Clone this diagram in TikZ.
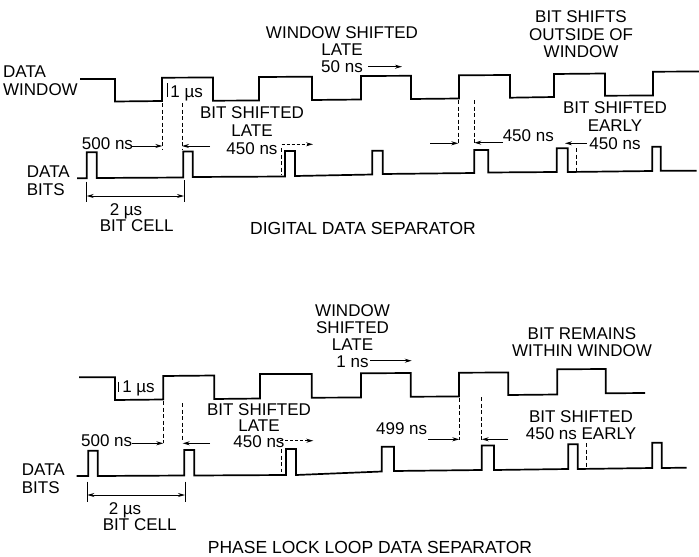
\documentclass[tikz,border=0pt]{standalone}
\usepackage{fontspec}
\setmainfont{Liberation Sans}
\usetikzlibrary{arrows.meta}
\newcommand\labfont[1]{\fontsize{17}{#1}\selectfont}
\tikzset{
 wave/.style={line width=1.7pt, line join=miter},
 guide/.style={line width=0.8pt, dash pattern=on 4pt off 2.5pt},
 dimarrow/.style={line width=0.9pt, -{Stealth[length=7pt,width=4pt]}},
 dotarrow/.style={dimarrow, dash pattern=on 3pt off 2pt},
 lbl/.style={font=\labfont{17.5}, inner sep=0pt, anchor=north, align=center},
 lbll/.style={lbl, align=left, anchor=north west},
 ttl/.style={lbl, font=\fontsize{17.5}{18}\selectfont},
 tickline/.style={line width=0.8pt}
}
\begin{document}
\begin{tikzpicture}[x=1pt,y=-1pt]
\useasboundingbox (0,0) rectangle (699,557);

% ================= TOP: DIGITAL DATA SEPARATOR =================
% data window
\draw[wave] (80,79) -- (115,79) -- (115,101.5) -- (162,101) -- (162,77.7) -- (213,77.5)
 -- (213,100.7) -- (259,100.5) -- (259,77) -- (312,76.7) -- (312,100) -- (361,99.5)
 -- (361,76) -- (411,75.8) -- (411,99) -- (459,98.5) -- (459,75.3) -- (510,75)
 -- (510,97.7) -- (554,97) -- (554,74) -- (605,73.5) -- (605,95.7) -- (653,95.5)
 -- (653,71.7) -- (699,71.5);
% data bits
\draw[wave] (77,178.3) -- (86.7,178.3) -- (86.7,152.3) -- (96.7,152.3) -- (96.7,178)
 -- (183.3,177.5) -- (183.3,151.5) -- (192.7,151.5) -- (192.7,177) -- (285,176.5)
 -- (285,151) -- (295,151) -- (295,176) -- (372.3,174.5) -- (372.3,150.7) -- (382.7,150.7)
 -- (382.7,174) -- (474.3,173) -- (474.3,150) -- (488.3,150) -- (488.3,172.5)
 -- (556.7,172) -- (556.7,148.3) -- (567.7,148.3) -- (567.7,172) -- (652.3,171)
 -- (652.3,146.7) -- (660.7,146.7) -- (660.7,170.7) -- (696.7,170.7);

% guide lines
\coordinate (tg1a) at (162.3,103); \coordinate (tg1b) at (162.3,149);
\coordinate (tg2a) at (182,103);   \coordinate (tg2b) at (182,149);
\coordinate (tg3a) at (281.7,148); \coordinate (tg3b) at (281.7,175);
\coordinate (tg4a) at (458.3,100); \coordinate (tg4b) at (458.3,145);
\coordinate (tg5a) at (474.3,100); \coordinate (tg5b) at (474.3,143);
\coordinate (tg6a) at (576.7,148); \coordinate (tg6b) at (576.7,172);
\foreach \g in {1,...,6} \draw[guide] (tg\g a) -- (tg\g b);
\draw[tickline] (167.5,83.3) -- (167.5,96.7);

% labels
\node[lbll, font=\labfont{17.6}] (tdw) at (3,65.6) {DATA\\WINDOW};
\node[lbl, font=\labfont{17.3}] (twsl) at (342,26.6) {WINDOW SHIFTED\\LATE};
\node[lbll] (t50) at (321,60.6) {50 ns};
\node[lbl] (t1us) at (186.7,85.6) {1 µs};
\node[lbl, font=\labfont{17.8}] (tbsl) at (252,106.6) {BIT SHIFTED\\LATE\\450 ns};
\node[lbl] (t500) at (107.5,137.2) {500 ns};
\node[lbl, font=\labfont{17.5}] (tbso) at (581,10.6) {BIT SHIFTS\\OUTSIDE OF\\WINDOW};
\node[lbl, font=\labfont{18}] (tbse) at (615,101.2) {BIT SHIFTED\\EARLY\\450 ns};
\node[lbl] (t450m) at (528.3,129.9) {450 ns};
\node[lbll, font=\labfont{18.3}] (tdb) at (26.7,165.6) {DATA\\BITS};
\node[lbl] (t2us) at (126,203.2) {2 µs};
\node[lbl] (tcell) at (136.7,219.9) {BIT CELL};
\node[ttl] (ttitle) at (363,222.2) {DIGITAL DATA SEPARATOR};

% arrows
\coordinate (ta1) at (131.7,146);   \coordinate (ta1e) at (162.3,146);
\coordinate (ta2) at (210,146);     \coordinate (ta2e) at (182,146);
\coordinate (ta3) at (281.7,144.3); \coordinate (ta3e) at (313,144.3);
\coordinate (ta4) at (368,66.7);    \coordinate (ta4e) at (402,66.7);
\coordinate (ta5) at (430,143.3);   \coordinate (ta5e) at (458.3,143.3);
\coordinate (ta6) at (503,142.7);   \coordinate (ta6e) at (474.3,142.7);
\coordinate (ta7) at (586.7,143.3); \coordinate (ta7e) at (565,143.3);
\draw[dimarrow] (ta1) -- (ta1e);
\draw[dimarrow] (ta2) -- (ta2e);
\draw[dotarrow] (ta3) -- (ta3e);
\draw[dimarrow] (ta4) -- (ta4e);
\draw[dimarrow] (ta5) -- (ta5e);
\draw[dimarrow] (ta6) -- (ta6e);
\draw[dimarrow] (ta7) -- (ta7e);
% bit cell dimension
\coordinate (tc1a) at (86.7,181.7); \coordinate (tc1b) at (86.7,201.7);
\coordinate (tc2a) at (184,180);    \coordinate (tc2b) at (184,201.7);
\draw[tickline] (tc1a) -- (tc1b);
\draw[tickline] (tc2a) -- (tc2b);
\draw[line width=0.9pt, {Stealth[length=7pt,width=4pt]}-{Stealth[length=7pt,width=4pt]}] (86.7,196) -- (184,196);

% ================= BOTTOM: PHASE LOCK LOOP DATA SEPARATOR =================
\draw[wave] (79,377.3) -- (115,377.3) -- (115,400) -- (163.3,399.5) -- (163.3,376) -- (214.3,375.5)
 -- (214.3,399) -- (260,398.5) -- (260,374) -- (311.7,374) -- (311.7,397.7) -- (361,397.5)
 -- (361,373.3) -- (410.7,373) -- (410.7,396.7) -- (459,396.5) -- (459,372.7) -- (508.3,372.5)
 -- (508.3,395) -- (557.3,394.5) -- (557.3,369.3) -- (605.7,369) -- (605.7,393.3) -- (645,393);
\draw[wave] (76.7,476) -- (88.3,476) -- (88.3,450.7) -- (97.7,450.7) -- (97.7,476)
 -- (184.3,475.5) -- (184.3,450) -- (194.3,450) -- (194.3,475.5) -- (286,475)
 -- (286,449) -- (296,449) -- (296,475) -- (381.7,471.5) -- (381.7,446.7) -- (394,446.7)
 -- (394,471) -- (481.7,470) -- (481.7,445.5) -- (494,445.5) -- (494,470)
 -- (568.3,469) -- (568.3,444.3) -- (577.7,444.3) -- (577.7,469) -- (652.3,468)
 -- (652.3,442.7) -- (661.7,442.7) -- (661.7,468) -- (686.7,467.7);

\coordinate (bg1a) at (163.3,401); \coordinate (bg1b) at (163.3,442.7);
\coordinate (bg2a) at (182.7,403); \coordinate (bg2b) at (182.7,440);
\coordinate (bg3a) at (281.7,449); \coordinate (bg3b) at (281.7,471.7);
\coordinate (bg4a) at (459.3,398); \coordinate (bg4b) at (459.3,440);
\coordinate (bg5a) at (481.7,397); \coordinate (bg5b) at (481.7,440);
\coordinate (bg6a) at (586,443);   \coordinate (bg6b) at (586,468);
\foreach \g in {1,...,6} \draw[guide] (bg\g a) -- (bg\g b);
\draw[tickline] (118.3,381.7) -- (118.3,391.7);

\node[lbl] (b1us) at (138.5,380.6) {1 µs};
\node[lbl, font=\labfont{17}] (bws) at (352.5,304.6) {WINDOW\\SHIFTED\\LATE\\1 ns};
\node[lbl, font=\labfont{17.7}] (brw) at (582,327.2) {BIT REMAINS\\WITHIN WINDOW};
\node[lbl, font=\labfont{15.9}] (bbsl) at (259,403.9) {BIT SHIFTED\\LATE\\450 ns};
\node[lbl] (b500) at (106.7,434.6) {500 ns};
\node[lbl] (b499) at (401.7,422.2) {499 ns};
\node[lbl, font=\labfont{16.6}] (bbse) at (581,410.6) {BIT SHIFTED\\450 ns EARLY};
\node[lbll, font=\labfont{17.3}] (bdb) at (21.7,463.9) {DATA\\BITS};
\node[lbl] (b2us) at (125,502.2) {2 µs};
\node[lbl] (bcell) at (139.7,518.9) {BIT CELL};
\node[ttl] (btitle) at (370,540.6) {PHASE LOCK LOOP DATA SEPARATOR};

\coordinate (ba1) at (131.7,443.3); \coordinate (ba1e) at (163.3,443.3);
\coordinate (ba2) at (210,443.3);   \coordinate (ba2e) at (182.7,443.3);
\coordinate (ba3) at (280,440.7);   \coordinate (ba3e) at (313.3,440.7);
\coordinate (ba4) at (370,360.7);   \coordinate (ba4e) at (411.7,360.7);
\coordinate (ba5) at (428.3,439.3); \coordinate (ba5e) at (459.3,439.3);
\coordinate (ba6) at (508.3,439.3); \coordinate (ba6e) at (481.7,439.3);
\draw[dimarrow] (ba1) -- (ba1e);
\draw[dimarrow] (ba2) -- (ba2e);
\draw[dotarrow] (ba3) -- (ba3e);
\draw[dimarrow] (ba4) -- (ba4e);
\draw[dimarrow] (ba5) -- (ba5e);
\draw[dimarrow] (ba6) -- (ba6e);
\coordinate (bc1a) at (87.3,481.7); \coordinate (bc1b) at (87.3,501.7);
\coordinate (bc2a) at (185,481.7);  \coordinate (bc2b) at (185,501.7);
\draw[tickline] (bc1a) -- (bc1b);
\draw[tickline] (bc2a) -- (bc2b);
\draw[line width=0.9pt, {Stealth[length=7pt,width=4pt]}-{Stealth[length=7pt,width=4pt]}] (87.3,495) -- (185,495);
\end{tikzpicture}
\end{document}
